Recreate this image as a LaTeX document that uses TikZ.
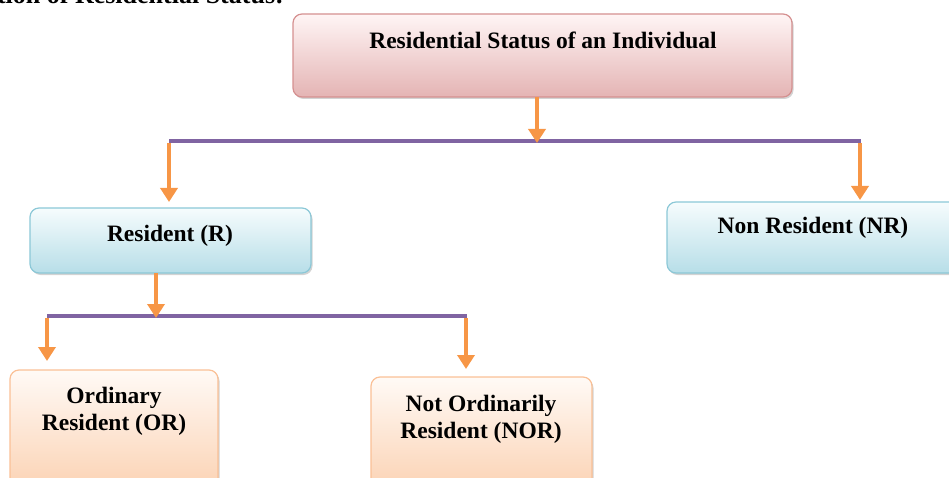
\documentclass[tikz,border=0pt]{standalone}
\usepackage{fontspec}
\setmainfont{Liberation Serif}
\usetikzlibrary{arrows.meta,shadows}
\definecolor{arr}{HTML}{F79646}
\definecolor{purp}{HTML}{8064A2}
\tikzset{
  box/.style={draw, line width=1.2pt, rounded corners=9pt, drop shadow={shadow xshift=1.5pt, shadow yshift=-2pt, opacity=0.35}},
  pinkbox/.style={box, draw=red!45!gray!60, top color=white!96!red, bottom color={rgb,255:red,228;green,180;blue,180}},
  bluebox/.style={box, draw={rgb,255:red,140;green,200;blue,215}, top color={rgb,255:red,246;green,252;blue,253}, bottom color={rgb,255:red,183;green,222;blue,232}},
  orbox/.style={box, draw={rgb,255:red,250;green,192;blue,150}, top color={rgb,255:red,255;green,250;blue,246}, bottom color={rgb,255:red,251;green,207;blue,174}},
  lbl/.style={font=\bfseries\fontsize{23.5}{27}\selectfont, align=center, inner sep=0pt},
  conn/.style={draw=arr, line width=4pt, -{Triangle[width=17pt,length=14pt]}},
  bar/.style={draw=purp, line width=4.5pt}
}
\begin{document}
\begin{tikzpicture}[x=1pt,y=-1pt]
\useasboundingbox (0,0) rectangle (949,478);
\clip (0,0) rectangle (949,478);
\node[font=\bfseries\fontsize{26}{30}\selectfont, anchor=base east, inner sep=0pt] (title) at (284,4) {tion of Residential Status:};
% boxes
\path[pinkbox] (293,14) rectangle (792,97);
\coordinate (topb) at (537,97);
\node[lbl] (t1) at (543,40) {Residential Status of an Individual};
\path[bluebox] (30,208) rectangle (311,273);
\node[lbl] (t2) at (170,236) {Resident (R)};
\path[bluebox] (667,202) rectangle (980,273);
\node[lbl] (t3) at (813,228) {Non Resident (NR)};
\path[orbox] (10,370) rectangle (218,500);
\node[lbl] (t4) at (114,411) {Ordinary\\Resident (OR)};
\path[orbox] (371,377) rectangle (592,500);
\node[lbl] (t5) at (481,419) {Not Ordinarily\\Resident (NOR)};
% connectors
\coordinate (b1l) at (169,141);
\coordinate (b1r) at (861,141);
\coordinate (b1m) at (537,141);
\draw[bar] (b1l) -- (b1r);
\draw[conn] (topb) -- ([yshift=-2pt]b1m);
\coordinate (a1) at (169,202);
\coordinate (a2) at (860,200);
\draw[conn] ([yshift=-2pt]b1l) -- (a1);
\draw[conn] ([xshift=-1pt,yshift=-2pt]b1r) -- (a2);
\coordinate (rb) at (156,273);
\coordinate (b2l) at (47,316);
\coordinate (b2r) at (467,316);
\coordinate (b2m) at (156,316);
\draw[bar] (b2l) -- (b2r);
\draw[conn] (rb) -- ([yshift=-2pt]b2m);
\coordinate (a3) at (47,361);
\coordinate (a4) at (466,369);
\draw[conn] ([yshift=-2pt]b2l) -- (a3);
\draw[conn] ([xshift=-1pt,yshift=-2pt]b2r) -- (a4);
\end{tikzpicture}
\end{document}
